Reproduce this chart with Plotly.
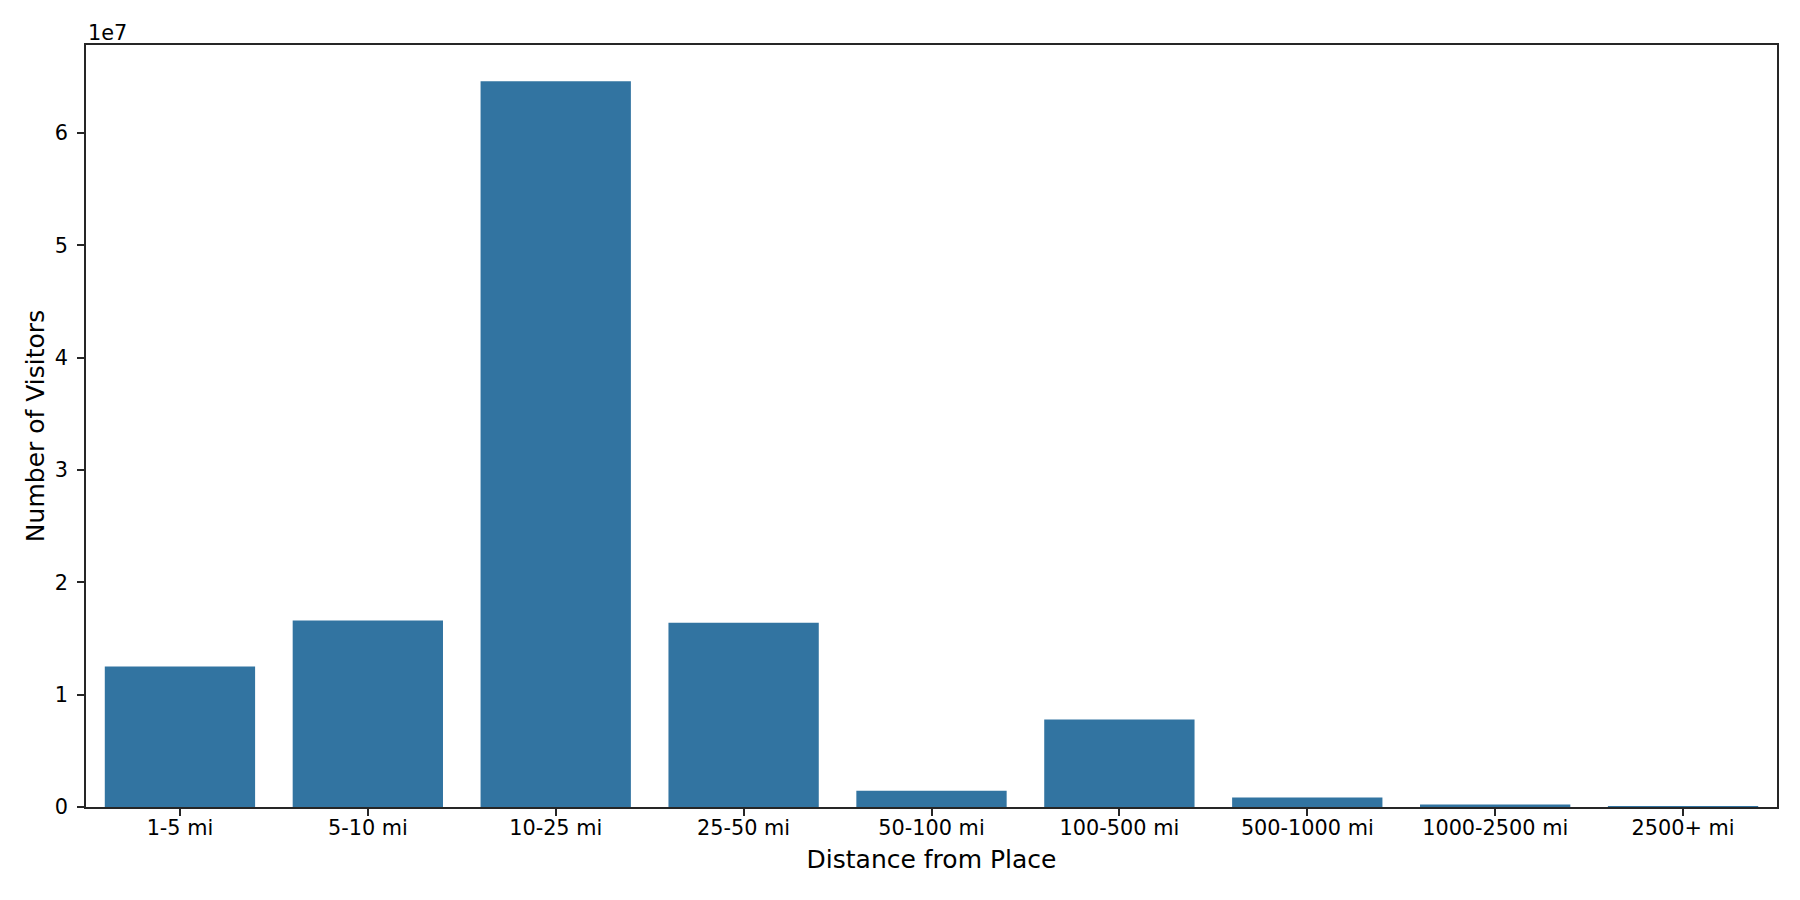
import plotly.graph_objects as go

# Visitors per distance band
distance_bands = ['1-5 mi', '5-10 mi', '10-25 mi', '25-50 mi', '50-100 mi',
                  '100-500 mi', '500-1000 mi', '1000-2500 mi', '2500+ mi']
visitors = [12500000, 16600000, 64600000, 16400000, 1450000,
            7800000, 850000, 230000, 30000]

y_tick_vals = [0, 10000000, 20000000, 30000000, 40000000, 50000000, 60000000]
y_tick_text = ['0', '1', '2', '3', '4', '5', '6']

BAR_COLOR = '#3274a1'
AXIS_COLOR = '#262626'
FONT = 'DejaVu Sans'


def main():
    trace = go.Bar(x=list(range(len(distance_bands))), y=visitors,
                   width=0.8, marker=dict(color=BAR_COLOR, line=dict(width=0)))

    layout = go.Layout(
        width=1800, height=900,
        paper_bgcolor='white', plot_bgcolor='white',
        margin=dict(l=78, r=31, t=37, b=101),
        font=dict(family=FONT, size=20.8, color='black'),
        showlegend=False,
        xaxis=dict(
            range=[-0.5, len(distance_bands) - 0.5],
            tickvals=list(range(len(distance_bands))),
            ticktext=distance_bands,
            ticks='outside', ticklen=7, tickwidth=1.6, tickcolor=AXIS_COLOR,
            ticklabelstandoff=-6,
            showline=True, linecolor=AXIS_COLOR, linewidth=1.6, mirror=True,
            showgrid=False, zeroline=False,
            title=dict(text='Distance from Place', font=dict(size=25),
                       standoff=12),
        ),
        yaxis=dict(
            range=[0, max(visitors) * 1.05],
            tickvals=y_tick_vals, ticktext=y_tick_text,
            ticks='outside', ticklen=7, tickwidth=1.6, tickcolor=AXIS_COLOR,
            ticklabelstandoff=5,
            showline=True, linecolor=AXIS_COLOR, linewidth=1.6, mirror=True,
            showgrid=False, zeroline=False,
            title=dict(text='Number of Visitors', font=dict(size=25),
                       standoff=3),
        ),
        annotations=[dict(text='1e7', xref='paper', yref='paper', x=0, y=1,
                          xanchor='left', yanchor='bottom', yshift=-2,
                          showarrow=False, font=dict(size=20.8))],
    )

    fig = go.Figure(data=[trace], layout=layout)
    fig.write_html('out.html')


if __name__ == '__main__':
    main()
